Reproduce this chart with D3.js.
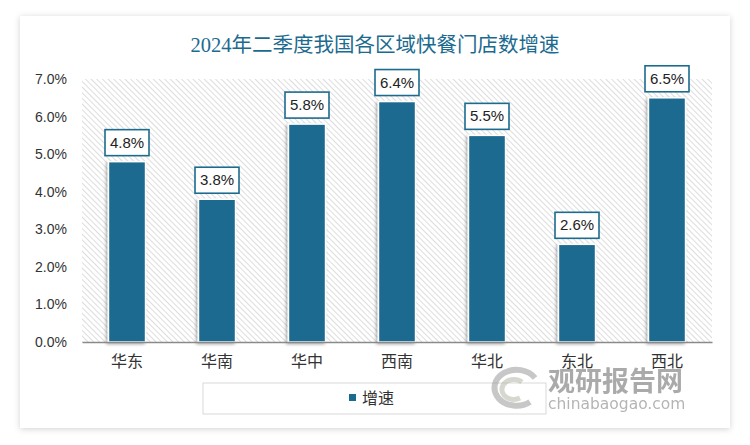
<!DOCTYPE html>
<html><head><meta charset="utf-8">
<script src="https://cdn.jsdelivr.net/npm/d3@7"></script>
<style>body{margin:0;background:#fff}svg{display:block}</style>
</head><body>
<script>
const categories = ["华东","华南","华中","西南","华北","东北","西北"];
const values = [4.8, 3.8, 5.8, 6.4, 5.5, 2.6, 6.5];
const yTicks = [0,1,2,3,4,5,6,7];
const title = "2024年二季度我国各区域快餐门店数增速";
const seriesName = "增速";

const W = 750, H = 445;
const barColor = "#1c6b8f";
const svg = d3.select("body").append("svg").attr("width", W).attr("height", H);
const defs = svg.append("defs");

const cf = defs.append("filter").attr("id","card").attr("x","-5%").attr("y","-5%").attr("width","110%").attr("height","110%");
cf.append("feDropShadow").attr("dx",0).attr("dy",1).attr("stdDeviation",3).attr("flood-color","#000").attr("flood-opacity",0.18);

const bf = defs.append("filter").attr("id","bs").attr("x","-30%").attr("y","-10%").attr("width","160%").attr("height","120%");
bf.append("feDropShadow").attr("dx",-1.5).attr("dy",1.5).attr("stdDeviation",1.5).attr("flood-color","#000").attr("flood-opacity",0.35);

const pat = defs.append("pattern").attr("id","hatch").attr("patternUnits","userSpaceOnUse")
  .attr("width",4).attr("height",4).attr("patternTransform","rotate(-45)");
pat.append("rect").attr("width",4).attr("height",4).attr("fill","#fff");
pat.append("line").attr("x1",0).attr("y1",0).attr("x2",0).attr("y2",4).attr("stroke","#cfcfcf").attr("stroke-width",1.4);

svg.append("rect").attr("x",20).attr("y",16).attr("width",710).attr("height",412)
  .attr("fill","#fff").attr("filter","url(#card)");

svg.append("text").attr("x",375).attr("y",52).attr("text-anchor","middle")
  .attr("font-family","'Liberation Serif','Noto Sans CJK SC',serif").attr("font-size",20.5)
  .attr("fill",barColor).text(title);

const x = d3.scaleBand().domain(categories).range([82,712]).paddingInner(0.588).paddingOuter(0.294);
const y = d3.scaleLinear().domain([0,7]).range([342,79]);

svg.append("rect").attr("x",82).attr("y",y(7)).attr("width",630).attr("height",y(0)-y(7)).attr("fill","url(#hatch)");

// y axis
const yAxis = svg.append("g").attr("transform","translate(67,0)")
  .call(d3.axisLeft(y).tickValues(yTicks).tickFormat(d => d.toFixed(1)+"%").tickSize(0).tickPadding(0));
yAxis.select(".domain").remove();
yAxis.selectAll("text").attr("font-family","'Liberation Sans',Arial,sans-serif").attr("font-size",14).attr("fill","#333");

// bars
svg.append("g").selectAll("rect").data(values).join("rect")
  .attr("x",(d,i)=>x(categories[i])).attr("y",d=>y(d))
  .attr("width",x.bandwidth()).attr("height",d=>y(0)-y(d))
  .attr("fill",barColor).attr("stroke","#fff").attr("stroke-width",1.5).attr("filter","url(#bs)");

// legend
svg.append("rect").attr("x",203).attr("y",383).attr("width",343).attr("height",31)
  .attr("fill","#fff").attr("stroke","#d9d9d9").attr("stroke-width",1);
svg.append("rect").attr("x",349).attr("y",394).attr("width",7).attr("height",7).attr("fill",barColor);
svg.append("text").attr("x",362).attr("y",404).attr("font-family","'Liberation Serif','Noto Sans CJK SC',serif")
  .attr("font-size",16).attr("fill","#333").text(seriesName);

// watermark
const wm = svg.append("g").attr("opacity",0.55);
wm.append("path").attr("d","M535,378 A22,18 0 1 0 530,402").attr("fill","none").attr("stroke","#9a9a9a").attr("stroke-width",6);
wm.append("path").attr("d","M522,382 A12,10 0 1 0 520,398").attr("fill","none").attr("stroke","#b8b8a8").attr("stroke-width",5);
wm.append("text").attr("x",548).attr("y",391).attr("font-family","'Noto Sans CJK SC',sans-serif").attr("font-weight","bold")
  .attr("font-size",27).attr("fill","#666").text("观研报告网");
wm.append("text").attr("x",548).attr("y",409).attr("font-family","'DejaVu Sans',sans-serif")
  .attr("font-size",15.5).attr("fill","#777").text("chinabaogao.com");

// x axis
const xAxis = svg.append("g").attr("transform","translate(0,342)")
  .call(d3.axisBottom(x).tickSize(0).tickPadding(14));
xAxis.select(".domain").attr("stroke","#8a8a8a").attr("stroke-width",1.5);
xAxis.selectAll("text").attr("font-family","'Liberation Serif','Noto Sans CJK SC',serif").attr("font-size",16).attr("fill","#333");

// labels
const lg = svg.append("g").selectAll("g").data(values).join("g")
  .attr("transform",(d,i)=>`translate(${x(categories[i])+x.bandwidth()/2},${y(d)-6})`);
lg.append("rect").attr("x",-22).attr("y",-26).attr("width",44).attr("height",26)
  .attr("fill","#fff").attr("stroke",barColor).attr("stroke-width",1.6);
lg.append("text").attr("x",0).attr("y",-8).attr("text-anchor","middle")
  .attr("font-family","'Liberation Sans',Arial,sans-serif").attr("font-size",15).attr("fill","#222")
  .text(d=>d.toFixed(1)+"%");
</script>
</body></html>
